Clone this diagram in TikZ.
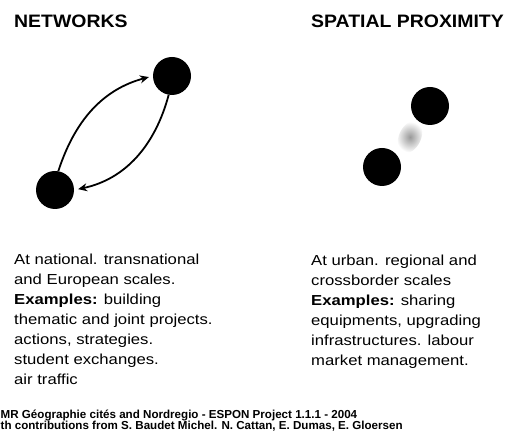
\documentclass[tikz,border=0pt]{standalone}
\usepackage{fontspec}
\setmainfont{Liberation Sans}
\newfontfamily\bodyf[FakeStretch=1.15]{Liberation Sans}
\newfontfamily\titlef[FakeStretch=1.08]{Liberation Sans}
\usetikzlibrary{arrows.meta}
\begin{document}
\begin{tikzpicture}[x=1pt,y=1pt,
  dot/.style={circle,fill=black,minimum size=38pt,inner sep=0pt},
  link/.style={line width=1.8pt,-{Stealth[length=9pt,width=8pt]}},
  ttl/.style={anchor=base west,inner sep=0pt,font=\titlef\bfseries\fontsize{18}{20}\selectfont},
  body/.style={anchor=north west,inner sep=0pt,align=left,font=\bodyf\fontsize{14.5}{20}\selectfont},
  foot/.style={anchor=base west,inner sep=0pt,font=\bfseries\fontsize{11.6}{12}\selectfont}]
\useasboundingbox (0,0) rectangle (505,436);
% titles
\node[ttl] (t1) at (14,408) {NETWORKS};
\node[ttl] (t2) at (311,408) {SPATIAL PROXIMITY};
% networks
\node[dot] (a) at (172,360) {};
\node[dot] (b) at (55,246) {};
\draw[link,shorten >=4pt] (b.80) to[out=72,in=195] (a.west);
\draw[link,shorten >=4pt] (a.260) to[out=255,in=12] (b.east);
% spatial proximity
\shade[inner color=gray!80,outer color=white,rotate around={-25:(410,299)}] (410,299) ellipse (11pt and 17pt);
\node[dot] (c) at (430,330) {};
\node[dot] (d) at (382,269) {};
% texts
\node[body] (x1) at (14,182.5) {At national. transnational\\and European scales.\\\textbf{Examples:} building\\thematic and joint projects.\\actions, strategies.\\student exchanges.\\air traffic};
\node[body] (x2) at (311,181.5) {At urban. regional and\\crossborder scales\\\textbf{Examples:} sharing\\equipments, upgrading\\infrastructures. labour\\market management.};
% footer
\node[foot] (f1) at (0.5,18) {MR Géographie cités and Nordregio - ESPON Project 1.1.1 - 2004};
\node[foot] (f2) at (0.5,7) {th contributions from S. Baudet Michel. N. Cattan, E. Dumas, E. Gloersen};
\end{tikzpicture}
\end{document}
